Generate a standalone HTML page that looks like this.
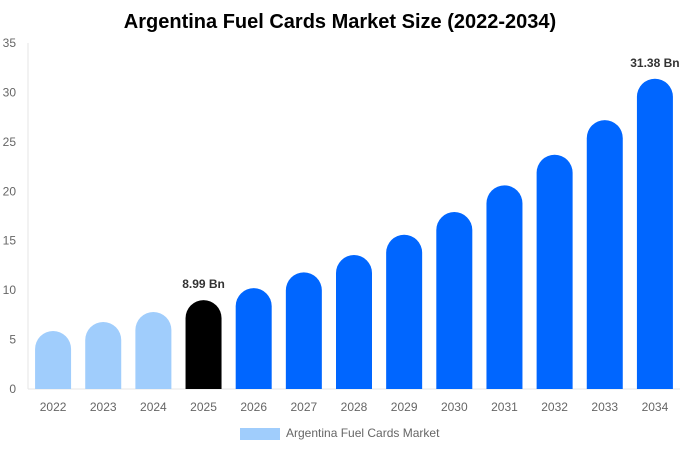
<!DOCTYPE html>
<html><head><meta charset="utf-8"><style>
body{margin:0;background:#fff;font-family:"Liberation Sans",sans-serif;}
</style></head><body>
<svg id="chart" width="680" height="450" xmlns="http://www.w3.org/2000/svg">
<text x="340" y="28" text-anchor="middle" font-size="20" font-weight="bold" fill="#000">Argentina Fuel Cards Market Size (2022-2034)</text>
<g id="axes"></g><g id="bars"></g>
<g>
<rect x="240" y="428" width="40" height="12" fill="#a0cdfc"/>
<text x="286" y="437" font-size="12" fill="#666">Argentina Fuel Cards Market</text>
</g>
</svg>
<script>
const categories=["2022","2023","2024","2025","2026","2027","2028","2029","2030","2031","2032","2033","2034"];
const values=[5.87,6.78,7.79,8.99,10.2,11.8,13.55,15.6,17.9,20.6,23.7,27.2,31.38];
const colors=["#a0cdfc","#a0cdfc","#a0cdfc","#000000","#0066ff","#0066ff","#0066ff","#0066ff","#0066ff","#0066ff","#0066ff","#0066ff","#0066ff"];
const yTicks=[0,5,10,15,20,25,30,35];
const labels={3:"8.99 Bn",12:"31.38 Bn"};
const NS="http://www.w3.org/2000/svg";
const x0=28,x1=680,y0=389,y1=43,yMax=35;
const y=v=>y0-(v/yMax)*(y0-y1);
const band=(x1-x0)/categories.length;
const xc=i=>x0+band*(i+0.5);
function mk(t,a,p){const e=document.createElementNS(NS,t);for(const k in a)e.setAttribute(k,a[k]);p.appendChild(e);return e;}
const ax=document.getElementById('axes'),bars=document.getElementById('bars');
yTicks.forEach(t=>{const e=mk('text',{x:16,y:y(t)+4,'text-anchor':'end','font-size':12,fill:'#666'},ax);e.textContent=t;

});
const yl=mk('line',{x1:x0,x2:x0,y1:y1,y2:y0,stroke:'#e5e5e5'},ax);


const xl=mk('line',{x1:x0,x2:x1,y1:y0,y2:y0,stroke:'#e5e5e5'},ax);


const bw=36,r=18;
categories.forEach((c,i)=>{
 const cx=xc(i),top=y(values[i]),L=cx-bw/2,R=cx+bw/2;
 const h=y0-top,rr=Math.min(r,h);
 const p=mk('path',{d:`M${L},${y0}L${L},${top+rr}A${r},${rr} 0 0 1 ${R},${top+rr}L${R},${y0}Z`,fill:colors[i]},bars);
 
 
 const t=mk('text',{x:cx,y:y0+22,'text-anchor':'middle','font-size':12,fill:'#666'},ax);t.textContent=c;
 
 
 if(labels[i]){const v=mk('text',{x:cx,y:top-12,'text-anchor':'middle','font-size':12,'font-weight':'bold',fill:'#333'},bars);v.textContent=labels[i];
 
 }
});
</script>
</body></html>
